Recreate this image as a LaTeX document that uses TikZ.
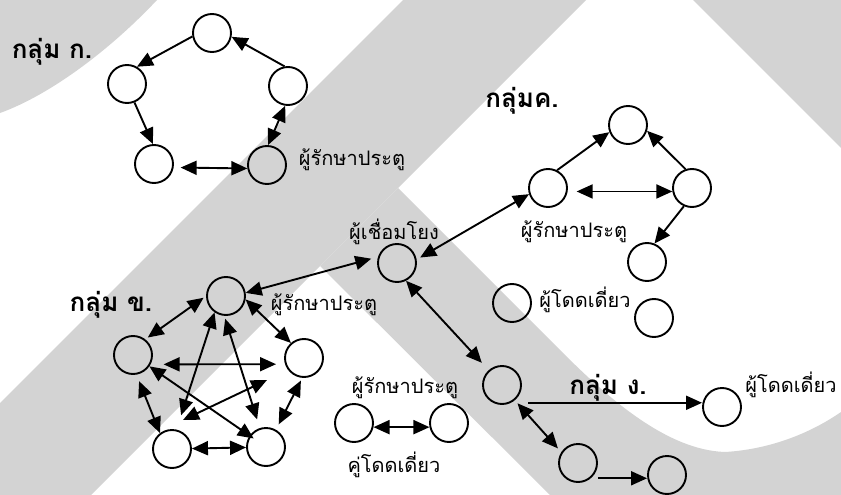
\documentclass[tikz,border=0pt]{standalone}
\usepackage{fontspec}
\newfontfamily\thaifont[Script=Thai]{Loma}
\usetikzlibrary{arrows.meta}
\definecolor{bandgray}{RGB}{211,211,211}
\begin{document}
\begin{tikzpicture}[x=1pt,y=-1pt,line join=round,
	font=\thaifont\fontsize{20}{24}\selectfont,
	member/.style={circle,draw,line width=1.9pt,minimum size=38pt,inner sep=0pt},
	arr/.style={line width=1.9pt,-{Triangle[length=16pt,width=14pt]}},
	dbl/.style={line width=1.9pt,{Triangle[length=16pt,width=14pt]}-{Triangle[length=16pt,width=14pt]}},
	grp/.style={font=\thaifont\bfseries\fontsize{26}{28}\selectfont}]
	\useasboundingbox (0,0) rectangle (841,495);
	\fill[bandgray] (0,0) -- (157,0) .. controls (110,50) and (50,95) .. (0,113) -- cycle;
	\fill[bandgray] (403,0) -- (586,0) -- (91,495) -- (0,495) -- (0,403) -- cycle;
	\fill[bandgray] (320,266) -- (398,188) -- (560,350) .. controls (605,395) and (665,450) .. (725,452)
		.. controls (775,449) and (815,430) .. (841,412) -- (841,495) -- (550,495) -- cycle;
	\fill[bandgray] (693,0) -- (841,0) -- (841,148) -- cycle;
	\node[member] (ka1) at (212,33) {};
	\node[member] (ka2) at (127,84) {};
	\node[member] (ka3) at (154,164) {};
	\node[member] (ka4) at (267,165) {};
	\node[member] (ka5) at (288,86) {};
	\node[member] (kh1) at (226,296) {};
	\node[member] (kh2) at (133,355) {};
	\node[member] (kh3) at (172,449) {};
	\node[member] (kh4) at (266,447) {};
	\node[member] (kh5) at (304,358) {};
	\node[member] (kc1) at (548,188) {};
	\node[member] (kc2) at (628,125) {};
	\node[member] (kc3) at (692,188) {};
	\node[member] (kc4) at (647,262) {};
	\node[member] (link) at (397,263) {};
	\node[member] (lone1) at (512,303) {};
	\node[member] (lone2) at (654,318) {};
	\node[member] (pairA) at (354,423) {};
	\node[member] (pairB) at (449,423) {};
	\node[member] (ng1) at (502,385) {};
	\node[member] (ng2) at (578,463) {};
	\node[member] (ng3) at (667,475) {};
	\node[member] (lone3) at (722,407) {};
	\draw[arr] (ka1.190) -- (ka2.60);
	\draw[arr] (ka2.-68) -- (ka3.93);
	\draw[dbl,shorten <=7pt] (ka3.-10) -- (ka4.190);
	\draw[dbl] (ka4.87) -- (ka5.262);
	\draw[arr] (ka5.100) -- (ka1.-11);
	\draw[dbl,shorten <=3pt,shorten >=3pt] (kh1.180) -- (kh2.52);
	\draw[dbl] (kh1.-10) -- (kh5.131);
	\draw[dbl,shorten <=13pt,shorten >=9pt] (kh2.-28) -- (kh5.198);
	\draw[dbl,shorten <=7pt] (kh2.-80) -- (kh3.127);
	\draw[dbl,shorten <=3pt,shorten >=6pt] (kh5.-95) -- (kh4.60);
	\draw[dbl] (kh3) -- (kh4);
	\draw[dbl,shorten >=15pt] (kh1.-125) -- (kh3.77);
	\draw[dbl,shorten <=3pt,shorten >=9pt] (kh1.-95) -- (kh4.108);
	\draw[dbl,shorten >=-5pt] (kh2) -- (kh4);
	\draw[dbl] ([shift={(-37,22)}]kh5.center) -- ([shift={(11,-29)}]kh3.center);
	\draw[arr] (kc1.63) -- (kc2.201);
	\draw[dbl,shorten <=9pt] (kc1.-10) -- (kc3.190);
	\draw[arr] (kc3.109) -- (kc2.-17);
	\draw[arr] (kc3.-114) -- (kc4.68);
	\draw[dbl,shorten <=4pt] (link.10) -- (kc1.198);
	\draw[dbl,shorten <=7pt] (link.162) -- (kh1.9);
	\draw[dbl,shorten >=10pt] (link.-63) -- (ng1.132);
	\draw[dbl] (pairA.-12) -- (pairB.192);
	\draw[arr,shorten <=17pt] (ng1.-63) -- (ng1.-63 -| lone3.west);
	\draw[dbl,shorten <=4pt,shorten >=5pt] (ng1.-50) -- (ng2.147);
	\draw[arr,shorten <=7pt] (ng2.-50) -- (ng2.-50 -| ng3.west);
	\node[grp] (kaname) at (52,52) {กลุ่ม ก.};
	\node (kagate) at (352,160) {ผู้รักษาประตู};
	\node[grp] (kcname) at (522,101) {กลุ่มค.};
	\node (kcgate) at (574,232) {ผู้รักษาประตู};
	\node (linkname) at (394,232) {ผู้เชื่อมโยง};
	\node[grp] (khname) at (111,305) {กลุ่ม ข.};
	\node (khgate) at (324,305) {ผู้รักษาประตู};
	\node (pairgate) at (405,388) {ผู้รักษาประตู};
	\node (pairname) at (394,465) {คู่โดดเดี่ยว};
	\node (lonename) at (585,300) {ผู้โดดเดี่ยว};
	\node[grp] (ngname) at (608,388) {กลุ่ม ง.};
	\node (lone3name) at (791,385) {ผู้โดดเดี่ยว};
\end{tikzpicture}
\end{document}
